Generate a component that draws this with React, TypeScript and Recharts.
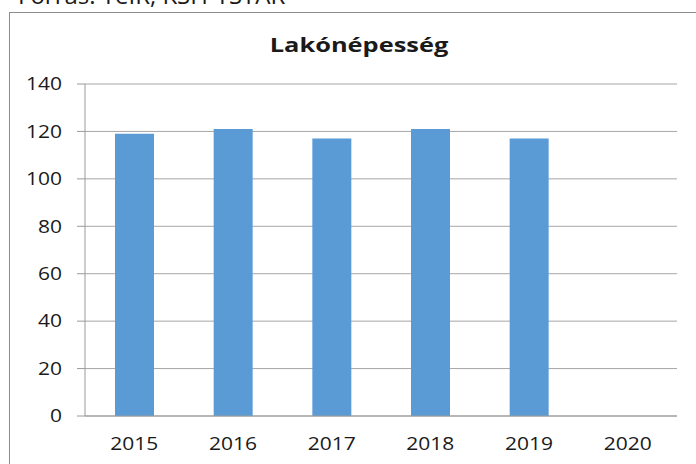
import { BarChart, Bar, XAxis, YAxis, CartesianGrid } from 'recharts'

const years = ['2015', '2016', '2017', '2018', '2019', '2020']
const population: (number | null)[] = [119, 121, 117, 121, 117, null]
const yTicks = [0, 20, 40, 60, 80, 100, 120, 140]
const edgeTicks = [0, 1, 2, 3, 4, 5, 6]

const data = years.map((year, i) => ({ year, value: population[i] }))

const font = "'Open Sans', sans-serif"
const ink = '#1a1a1a'

// the original text looks horizontally stretched, so widen glyphs a bit
function XTick({ x, y, payload }: any) {
  return (
    <text transform={`translate(${x},${y}) scale(1.2,1)`} textAnchor="middle" dy="0.71em" fontFamily={font} fontSize={17.5} fill={ink}>
      {payload.value}
    </text>
  )
}

function YTick({ x, y, payload }: any) {
  return (
    <text transform={`translate(${x},${y}) scale(1.2,1)`} textAnchor="end" dy="0.355em" fontFamily={font} fontSize={17.5} fill={ink}>
      {payload.value}
    </text>
  )
}

export default function App() {
  return (
    <div style={{ position: 'absolute', left: 0, top: 0, width: 696, height: 464, overflow: 'hidden', background: '#fff' }}>
      <svg width={696} height={60} style={{ position: 'absolute', left: 0, top: 0 }}>
        {/* source line, cut off at the top like in the original */}
        <text x={18} y={4} fontFamily={font} fontSize={24} fill={ink}>
          Forrás: TeIR, KSH-TSTAR
        </text>
        <text transform="translate(359,52) scale(1.27,1)" textAnchor="middle" fontFamily={font} fontWeight={700} fontSize={20} fill={ink}>
          Lakónépesség
        </text>
      </svg>

      {/* chart frame */}
      <div style={{ position: 'absolute', left: 9, top: 12, width: 700, height: 470, border: '1px solid #8c8c8c', boxSizing: 'border-box' }} />

      <div style={{ position: 'absolute', left: 0, top: 0 }}>
        <BarChart width={696} height={464} data={data} margin={{ top: 84, right: 19, bottom: 18, left: 25 }}>
          <CartesianGrid vertical={false} stroke="#a6a6a6" xAxisId="cat" />
          <XAxis xAxisId="edge" type="number" domain={[0, 6]} ticks={edgeTicks} tick={false} tickSize={5} axisLine={false} stroke="#9a9a9a" height={0} />
          <XAxis
            xAxisId="cat"
            dataKey="year"
            height={30}
            tickLine={false}
            tickSize={0}
            tickMargin={22}
            axisLine={{ stroke: '#9a9a9a' }}
            tick={<XTick />}
          />
          <YAxis
            width={60}
            domain={[0, 140]}
            ticks={yTicks}
            interval={0}
            tickSize={8}
            tickMargin={15}
            axisLine={{ stroke: '#9a9a9a' }}
            tickLine={{ stroke: '#9a9a9a' }}
            tick={<YTick />}
          />
          <Bar xAxisId="cat" dataKey="value" fill="#5b9bd5" barSize={39} isAnimationActive={false} />
        </BarChart>
      </div>
    </div>
  )
}
